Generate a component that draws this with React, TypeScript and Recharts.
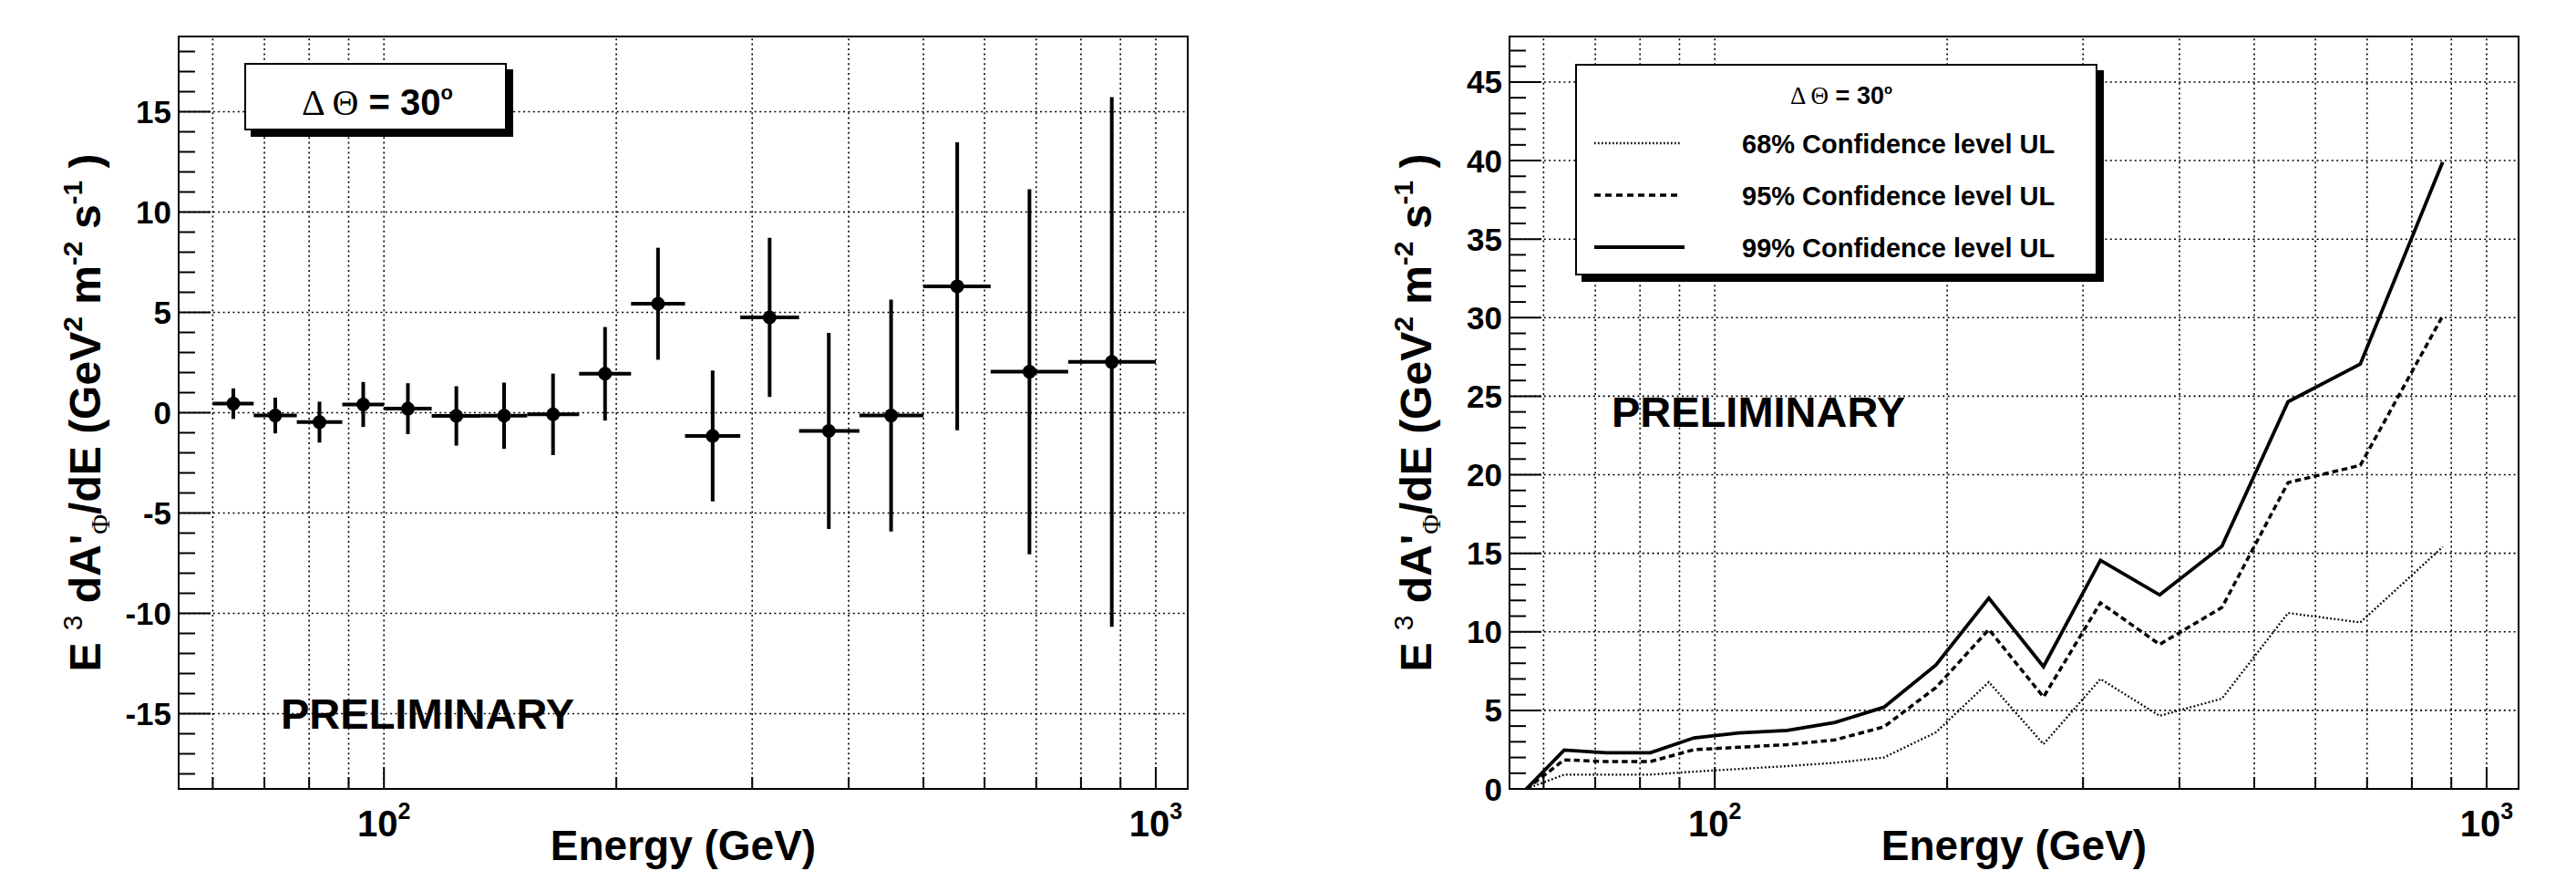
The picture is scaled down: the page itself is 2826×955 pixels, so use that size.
import React from 'react';
import {
  ScatterChart, Scatter, ErrorBar, LineChart, Line, XAxis, YAxis,
  ReferenceLine, ReferenceArea, Legend,
} from 'recharts';

// energy bins (GeV): centre, lower edge, upper edge
const energy = [63.8, 72.3, 82.5, 94, 107.4, 124.1, 143.1, 165.6, 193.4, 226.5, 266.6, 316, 377, 454, 553, 686, 877];
const binLow = [60, 67.8, 77.1, 88.3, 100, 115.3, 133.6, 153.3, 179, 209, 245.5, 289.5, 345, 413, 500, 611, 770];
const binHigh = [67.8, 77.1, 88.3, 100, 115.3, 133.6, 153.3, 179, 209, 245.5, 289.5, 345, 413, 500, 611, 770, 1000];
// E^3 dA'/dE with its error, left panel
const flux = [0.45, -0.14, -0.47, 0.41, 0.2, -0.16, -0.15, -0.08, 1.94, 5.43, -1.16, 4.75, -0.91, -0.14, 6.3, 2.04, 2.53];
const fluxErr = [0.76, 0.89, 1.02, 1.12, 1.27, 1.48, 1.65, 2.03, 2.33, 2.79, 3.26, 3.97, 4.89, 5.78, 7.18, 9.1, 13.2];

// upper limits, right panel
const ulEnergy = [57, 63.8, 72.3, 82.5, 94, 107.4, 124.1, 143.1, 165.6, 193.4, 226.5, 266.6, 316, 377, 454, 553, 686, 877];
const ul68 = [0, 0.91, 0.91, 0.91, 1.1, 1.27, 1.45, 1.66, 2.0, 3.6, 6.8, 2.85, 7.0, 4.65, 5.75, 11.2, 10.6, 15.4];
const ul95 = [0, 1.85, 1.74, 1.74, 2.5, 2.65, 2.82, 3.12, 3.95, 6.45, 10.15, 5.85, 11.85, 9.2, 11.55, 19.5, 20.6, 30.1];
const ul99 = [0, 2.47, 2.3, 2.3, 3.25, 3.56, 3.72, 4.23, 5.2, 7.88, 12.15, 7.78, 14.55, 12.35, 15.45, 24.65, 27.05, 39.9];

const xTicks = [60, 70, 80, 90, 100, 200, 300, 400, 500, 600, 700, 800, 900, 1000];
const xLabelled = [100, 1000];
const xLabelExp = ['2', '3'];
const leftYLabels = [-15, -10, -5, 0, 5, 10, 15];
const rightYLabels = [0, 5, 10, 15, 20, 25, 30, 35, 40, 45];
const rightGrid = [5, 10, 15, 20, 25, 30, 35, 40, 45];

const X_DOMAIN = [54.2, 1100];
const LEFT_Y = [-18.75, 18.75];
const RIGHT_Y = [0, 47.9];

const FONT = "'Liberation Sans', Arial, Helvetica, sans-serif";
const SYM = "'Liberation Serif', 'DejaVu Serif', serif";

// panel geometry (px, inside one panel)
const CH_H = 955;
const PLOT_L = 196;
const PLOT_T = 40;
const PLOT_W = 1107;
const PLOT_H = 825;
const YAXIS_W = 120;
const XAXIS_H = 90;

const steps = (lo: number, hi: number) => {
  const out: number[] = [];
  for (let v = lo; v <= hi; v++) out.push(v);
  return out;
};
const leftYTicks = steps(-18, 18);
const rightYTicks = steps(0, 47);

const fluxData = energy.map((e, i) => ({
  e,
  v: flux[i],
  ex: [e - binLow[i], binHigh[i] - e],
  ey: fluxErr[i],
}));

const ulData = ulEnergy.map((e, i) => ({ e, ul68: ul68[i], ul95: ul95[i], ul99: ul99[i] }));

const lineStyle: Record<string, { w: number; dash?: string; legendDash?: string }> = {
  ul68: { w: 2.3, dash: '1.8 2.4', legendDash: '1.6 2.4' },
  ul95: { w: 3.5, dash: '6.5 4', legendDash: '7 5' },
  ul99: { w: 3.8 },
};

function XTick(props: any) {
  const { x, y, payload } = props;
  const v = payload.value;
  const idx = xLabelled.indexOf(v);
  const len = idx >= 0 ? 24 : 13;
  return (
    <g>
      <line x1={x} x2={x} y1={y} y2={y - len} stroke="#000" strokeWidth={2} />
      {idx >= 0 && (
        <text x={x} y={y + 52} textAnchor="middle" fontFamily={FONT} fontWeight="bold" fontSize={40} fill="#000">
          10<tspan dy={-19} fontSize={25}>{xLabelExp[idx]}</tspan>
        </text>
      )}
    </g>
  );
}

function YTick(props: any) {
  const { x, y, payload, labels } = props;
  const v = payload.value;
  const major = labels.includes(v);
  return (
    <g>
      <line x1={x} x2={x + (major ? 35 : 18)} y1={y} y2={y} stroke="#000" strokeWidth={2} />
      {major && (
        <text x={x - 8} y={y + 12.5} textAnchor="end" fontFamily={FONT} fontWeight="bold" fontSize={35} fill="#000">
          {v}
        </text>
      )}
    </g>
  );
}

function Titles({ width, prelimY }: { width: number; prelimY: number }) {
  const cx = PLOT_L + PLOT_W / 2;
  const cy = PLOT_T + PLOT_H / 2;
  const tx = PLOT_L - 86;
  return (
    <svg width={width} height={CH_H} style={{ position: 'absolute', left: 0, top: 0, pointerEvents: 'none' }}>
      <text x={cx} y={943} textAnchor="middle" fontFamily={FONT} fontWeight="bold" fontSize={46} fill="#000">
        Energy (GeV)
      </text>
      <text
        x={tx}
        y={cy}
        transform={`rotate(-90 ${tx} ${cy})`}
        textAnchor="middle"
        fontFamily={FONT}
        fontWeight="bold"
        fontSize={48}
        fill="#000"
      >
        {'E '}
        <tspan dy={-20} fontSize={30} fontWeight="normal">{'3'}</tspan>
        <tspan dy={20}>{' dA\''}</tspan>
        <tspan dy={10} fontSize={30} fontFamily={SYM} fontWeight="normal">{'\u03A6'}</tspan>
        <tspan dy={-10}>{'/dE (GeV'}</tspan>
        <tspan dy={-20} fontSize={30}>{'2'}</tspan>
        <tspan dy={20}>{' m'}</tspan>
        <tspan dy={-20} fontSize={30}>{'-2'}</tspan>
        <tspan dy={20}>{' s'}</tspan>
        <tspan dy={-20} fontSize={30}>{'-1'}</tspan>
        <tspan dy={20}>{' )'}</tspan>
      </text>
      <text x={308} y={prelimY} fontFamily={FONT} fontWeight="bold" fontSize={47} fill="#000">
        PRELIMINARY
      </text>
    </svg>
  );
}

const boxStyle: React.CSSProperties = {
  boxSizing: 'border-box',
  border: '2px solid #000',
  background: '#fff',
  boxShadow: '7px 7px 0 #000',
};

function AngleText({ x, y, size }: { x: number; y: number; size: number }) {
  return (
    <text x={x} y={y} textAnchor="middle" fontFamily={FONT} fontWeight="bold" fontSize={size} fill="#000">
      <tspan fontFamily={SYM} fontWeight="normal">{'\u0394 \u0398'}</tspan>
      <tspan>{' = 30'}</tspan>
      <tspan dy={-size * 0.42} fontSize={size * 0.55}>o</tspan>
    </text>
  );
}

function AngleBox() {
  return (
    <div style={{ ...boxStyle, width: 288, height: 74 }}>
      <svg width={284} height={70} style={{ display: 'block' }}>
        <AngleText x={144} y={55} size={40} />
      </svg>
    </div>
  );
}

function LimitLegend(props: any) {
  const items = props.payload || [];
  return (
    <div style={{ ...boxStyle, width: 573, height: 232 }}>
      <svg width={569} height={228} style={{ display: 'block' }}>
        <AngleText x={290} y={42} size={27} />
        {items.map((it: any, i: number) => {
          const st = lineStyle[it.dataKey] || { w: 3 };
          const ly = 85 + i * 57;
          const ty = 96 + i * 57;
          return (
            <g key={it.dataKey}>
              <line
                x1={19}
                x2={st.dash ? 114 : 118}
                y1={ly}
                y2={ly}
                stroke="#000"
                strokeWidth={st.w}
                strokeDasharray={st.legendDash}
              />
              <text x={181} y={ty} fontFamily={FONT} fontWeight="bold" fontSize={29} fill="#000">
                {it.value}
              </text>
            </g>
          );
        })}
      </svg>
    </div>
  );
}

const grid = { stroke: '#000', strokeWidth: 1.6, strokeDasharray: '2 3.4' };

function FluxPanel() {
  const w = 1400;
  return (
    <div style={{ position: 'relative', width: w, height: CH_H }}>
      <ScatterChart
        width={w}
        height={CH_H}
        margin={{ top: PLOT_T, right: w - PLOT_L - PLOT_W, bottom: CH_H - PLOT_T - PLOT_H - XAXIS_H, left: PLOT_L - YAXIS_W }}
      >
        <XAxis
          type="number"
          dataKey="e"
          scale="log"
          domain={X_DOMAIN}
          allowDataOverflow
          ticks={xTicks}
          interval={0}
          tickSize={0}
          tickMargin={0}
          axisLine={false}
          height={XAXIS_H}
          tick={(p: any) => <XTick {...p} />}
        />
        <YAxis
          type="number"
          dataKey="v"
          domain={LEFT_Y}
          allowDataOverflow
          ticks={leftYTicks}
          interval={0}
          tickSize={0}
          tickMargin={0}
          axisLine={false}
          width={YAXIS_W}
          tick={(p: any) => <YTick {...p} labels={leftYLabels} />}
        />
        {xTicks.map((v) => (
          <ReferenceLine key={'vx' + v} x={v} {...grid} />
        ))}
        {leftYLabels.map((v) => (
          <ReferenceLine key={'hy' + v} y={v} {...grid} />
        ))}
        <ReferenceArea
          x1={X_DOMAIN[0]}
          x2={X_DOMAIN[1]}
          y1={LEFT_Y[0]}
          y2={LEFT_Y[1]}
          fill="none"
          fillOpacity={0}
          stroke="#000"
          strokeWidth={2}
          ifOverflow="visible"
        />
        <Scatter
          data={fluxData}
          fill="#000"
          isAnimationActive={false}
          shape={(p: any) => <circle cx={p.cx} cy={p.cy} r={7.5} fill="#000" />}
        >
          <ErrorBar dataKey="ey" direction="y" width={0} stroke="#000" strokeWidth={4} />
          <ErrorBar dataKey="ex" direction="x" width={0} stroke="#000" strokeWidth={4} />
        </Scatter>
        <Legend
          layout="vertical"
          align="center"
          verticalAlign="middle"
          wrapperStyle={{ left: 268, top: 69, width: 288, height: 74 }}
          content={() => <AngleBox />}
        />
      </ScatterChart>
      <Titles width={w} prelimY={799} />
    </div>
  );
}

function LimitPanel() {
  const w = 1366;
  return (
    <div style={{ position: 'relative', width: w, height: CH_H }}>
      <LineChart
        width={w}
        height={CH_H}
        data={ulData}
        margin={{ top: PLOT_T, right: w - PLOT_L - PLOT_W, bottom: CH_H - PLOT_T - PLOT_H - XAXIS_H, left: PLOT_L - YAXIS_W }}
      >
        <XAxis
          type="number"
          dataKey="e"
          scale="log"
          domain={X_DOMAIN}
          allowDataOverflow
          ticks={xTicks}
          interval={0}
          tickSize={0}
          tickMargin={0}
          axisLine={false}
          height={XAXIS_H}
          tick={(p: any) => <XTick {...p} />}
        />
        <YAxis
          type="number"
          domain={RIGHT_Y}
          allowDataOverflow
          ticks={rightYTicks}
          interval={0}
          tickSize={0}
          tickMargin={0}
          axisLine={false}
          width={YAXIS_W}
          tick={(p: any) => <YTick {...p} labels={rightYLabels} />}
        />
        {xTicks.map((v) => (
          <ReferenceLine key={'vx' + v} x={v} {...grid} />
        ))}
        {rightGrid.map((v) => (
          <ReferenceLine key={'hy' + v} y={v} {...grid} />
        ))}
        <ReferenceArea
          x1={X_DOMAIN[0]}
          x2={X_DOMAIN[1]}
          y1={RIGHT_Y[0]}
          y2={RIGHT_Y[1]}
          fill="none"
          fillOpacity={0}
          stroke="#000"
          strokeWidth={2}
          ifOverflow="visible"
        />
        <Line
          dataKey="ul68"
          name="68% Confidence level UL"
          type="linear"
          stroke="#000"
          strokeWidth={lineStyle.ul68.w}
          strokeDasharray={lineStyle.ul68.dash}
          dot={false}
          isAnimationActive={false}
        />
        <Line
          dataKey="ul95"
          name="95% Confidence level UL"
          type="linear"
          stroke="#000"
          strokeWidth={lineStyle.ul95.w}
          strokeDasharray={lineStyle.ul95.dash}
          dot={false}
          isAnimationActive={false}
        />
        <Line
          dataKey="ul99"
          name="99% Confidence level UL"
          type="linear"
          stroke="#000"
          strokeWidth={lineStyle.ul99.w}
          dot={false}
          isAnimationActive={false}
        />
        <Legend
          layout="vertical"
          align="center"
          verticalAlign="middle"
          wrapperStyle={{ left: 268, top: 70, width: 573, height: 232 }}
          content={(p: any) => <LimitLegend {...p} />}
        />
      </LineChart>
      <Titles width={w} prelimY={468} />
    </div>
  );
}

export default function App() {
  return (
    <div style={{ position: 'absolute', left: 0, top: 0, width: 2826, height: 955, background: '#fff', overflow: 'hidden' }}>
      <div style={{ position: 'absolute', left: 0, top: 0 }}>
        <FluxPanel />
      </div>
      <div style={{ position: 'absolute', left: 1460, top: 0 }}>
        <LimitPanel />
      </div>
    </div>
  );
}
